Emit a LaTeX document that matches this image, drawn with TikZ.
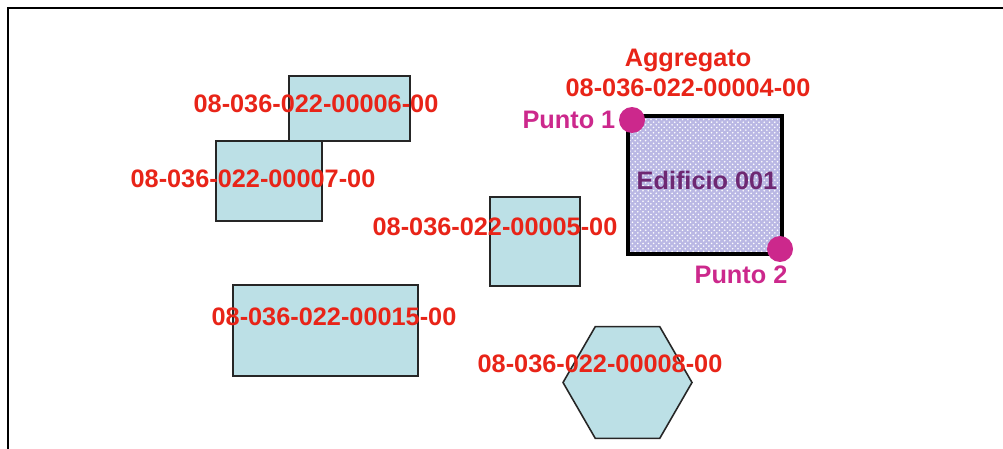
\documentclass[tikz,border=0pt]{standalone}
\usepackage{fontspec}
\setmainfont{Liberation Sans}
\usetikzlibrary{positioning, shapes.geometric, patterns}
\definecolor{lotred}{RGB}{232,36,24}
\definecolor{lotfill}{RGB}{188,224,230}
\definecolor{puntocol}{RGB}{204,40,140}
\definecolor{edifcol}{RGB}{110,40,115}
\definecolor{aggfill}{RGB}{186,184,228}

\begin{document}
\begin{tikzpicture}[x=0.02cm, y=-0.02cm,
    lot/.style={draw=black!85, fill=lotfill, line width=0.9pt, inner sep=0pt, outer sep=0pt},
    lbl/.style={text=lotred, font=\fontsize{14.4}{16}\selectfont\bfseries, inner sep=0pt},
    punto/.style={circle, fill=puntocol, minimum size=0.52cm, inner sep=0pt},
    ptlbl/.style={text=puntocol, font=\fontsize{14.4}{16}\selectfont\bfseries, inner sep=0pt}
]
    \useasboundingbox (0,0) rectangle (1003,449);
    \draw[line width=0.8pt] (8,449) -- (8,8) -- (1003,8);

    % particelle
    \node[lot, minimum width=2.42cm, minimum height=1.30cm] (p6) at (349.5,108.5) {};
    \node[lot, minimum width=2.12cm, minimum height=1.60cm] (p7) at (269,181) {};
    \node[lot, minimum width=1.80cm, minimum height=1.78cm] (p5) at (535,241.5) {};
    \node[lot, minimum width=3.70cm, minimum height=1.82cm] (p15) at (325.5,330.5) {};
    \node[lot, regular polygon, regular polygon sides=6,
        minimum size=2.58cm] (p8) at (627.5,382.5) {};

    % aggregato
    \node[draw=black, line width=2.4pt, preaction={fill=aggfill},
        pattern=crosshatch dots, pattern color=white,
        minimum width=3.08cm, minimum height=2.76cm, inner sep=0pt] (agg) at (705,185) {};
    \node[text=edifcol, font=\fontsize{14.4}{16}\selectfont\bfseries, inner sep=0pt] (edif) at (707,180) {Edificio 001};

    % etichette
    \node[lbl] (l6) at (316,104) {08-036-022-00006-00};
    \node[lbl] (l7) at (253,179) {08-036-022-00007-00};
    \node[lbl] (l5) at (495,227) {08-036-022-00005-00};
    \node[lbl] (l15) at (334,317) {08-036-022-00015-00};
    \node[lbl] (l8) at (600,364) {08-036-022-00008-00};
    \node[lbl] (l4) at (688,88) {08-036-022-00004-00};
    \node[lbl, above=0.12cm of l4] (aggr) {Aggregato};

    % punti
    \node[punto] (pt1) at (632,120) {};
    \node[punto] (pt2) at (780,249) {};
    \node[ptlbl, left=0.06cm of pt1] (pl1) {Punto 1};
    \node[ptlbl, below=0.06cm of pt2, xshift=-0.78cm] (pl2) {Punto 2};
\end{tikzpicture}
\end{document}
